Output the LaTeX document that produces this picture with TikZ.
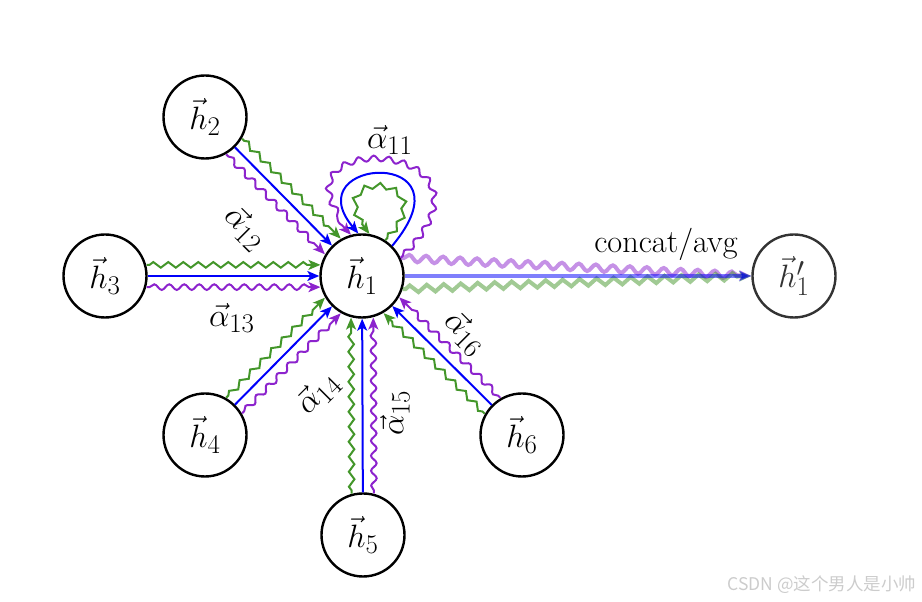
\documentclass[tikz,border=0pt]{standalone}
\usepackage{graphicx}
\usepackage{fontspec}
\newfontfamily\cjk{Noto Sans CJK SC}
\usetikzlibrary{arrows.meta,decorations.pathmorphing,calc}
\definecolor{gblue}{RGB}{0,0,250}
\definecolor{ggreen}{RGB}{67,150,42}
\definecolor{gpurple}{RGB}{140,35,205}
\newcommand{\bigT}[1]{\scalebox{1.3}{#1}}
\begin{document}
\begin{tikzpicture}[x=1pt,y=1pt,
  every node/.style={font=\fontsize{24.88}{30}\selectfont},
  nd/.style={circle,draw,line width=2.4pt,minimum size=83pt,inner sep=0pt},
  arr/.style={-{Stealth[length=12pt,width=10pt,inset=3pt]}},
  be/.style={arr,color=gblue,line width=2pt},
  zz/.style={decorate,decoration={zigzag,amplitude=2.8pt,segment length=15pt,pre length=3pt,post length=11pt}},
  sn/.style={decorate,decoration={snake,amplitude=2.8pt,segment length=15pt,pre length=3pt,post length=11pt}},
  ge/.style={arr,color=ggreen,line width=2pt,zz},
  pe/.style={arr,color=gpurple,line width=2pt,sn},
]
\useasboundingbox (0,0) rectangle (922,602);
\node[nd] (h1) at (362,326) {\bigT{$\vec{h}_1$}};
\node[nd] (h2) at (205,485) {\bigT{$\vec{h}_2$}};
\node[nd] (h3) at (105,326) {\bigT{$\vec{h}_3$}};
\node[nd] (h4) at (205,167) {\bigT{$\vec{h}_4$}};
\node[nd] (h5) at (363,67) {\bigT{$\vec{h}_5$}};
\node[nd] (h6) at (522,167) {\bigT{$\vec{h}_6$}};
\node[nd,draw=black!80,text=black!80] (h1p) at (794,326) {\bigT{$\vec{h}'_1$}};

\foreach \n in {2,...,6} {
  \draw[be] (h\n) -- (h1);
  \draw[ge] ($(h\n)!43pt!15:(h1)$) -- ($(h1)!43pt!-15:(h\n)$);
  \draw[pe] ($(h\n)!43pt!-15:(h1)$) -- ($(h1)!43pt!15:(h\n)$);
}

% self loops
\draw[pe] (h1.25) .. controls +(45:170) and +(135:150) .. (h1.105);
\draw[be] (h1.45) .. controls +(50:130) and +(130:100) .. (h1.95);
\draw[ge] (h1.57) .. controls +(45:95) and +(130:90) .. (h1.80);

% output
\draw[arr,color=gpurple,line width=4pt,opacity=0.5,decorate,decoration={snake,amplitude=3.5pt,segment length=17pt,pre length=3pt,post length=12pt}] (h1.25) -- (h1p.west);
\draw[arr,color=ggreen,line width=4pt,opacity=0.5,decorate,decoration={zigzag,amplitude=3.5pt,segment length=17pt,pre length=3pt,post length=12pt}] (h1.-18) -- (h1p.west);
\draw[arr,color=gblue,line width=4pt,opacity=0.5] (h1.east) -- (h1p.west);

\node (a11) at (390,462) {\bigT{$\vec{\alpha}_{11}$}};
\node[rotate=-45] (a12) at (245,374) {\bigT{$\vec{\alpha}_{12}$}};
\node (a13) at (232,284) {\bigT{$\vec{\alpha}_{13}$}};
\node[rotate=45] (a14) at (318,209) {\bigT{$\vec{\alpha}_{14}$}};
\node[rotate=90] (a15) at (395,189) {\bigT{$\vec{\alpha}_{15}$}};
\node[rotate=-45] (a16) at (465,269) {\bigT{$\vec{\alpha}_{16}$}};
\node (cat) at (666,358) {\bigT{concat/avg}};
\node[text=black!20,font=\cjk\fontsize{17.5}{19}\selectfont] (wm) at (822,17) {CSDN @这个男人是小帅};
\end{tikzpicture}
\end{document}
